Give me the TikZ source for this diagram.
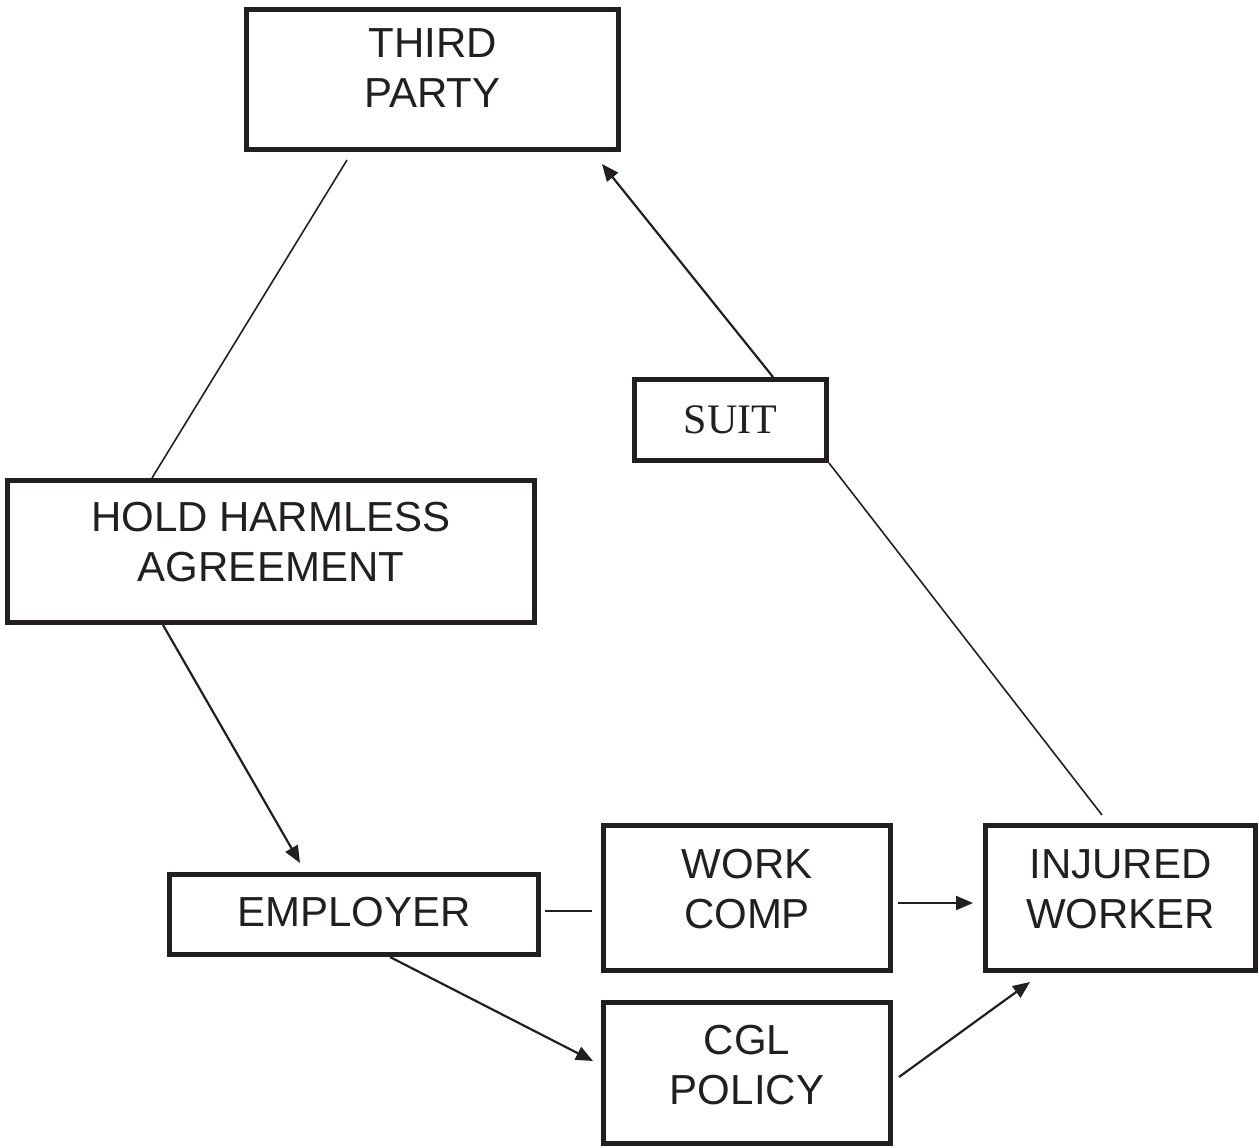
\documentclass[tikz,border=0pt]{standalone}
\usepackage{fontspec}
\setmainfont{Liberation Sans}
\newfontfamily\suitfont{Liberation Serif}
\usetikzlibrary{calc,arrows.meta}
\definecolor{ink}{RGB}{35,31,32}
\begin{document}
\begin{tikzpicture}[x=1bp,y=-1bp,
  box/.style={draw=ink, line width=5bp, rectangle, inner sep=0pt},
  lbl/.style={text=ink, inner sep=0pt, align=center, font=\fontsize{42bp}{50bp}\selectfont},
  link/.style={draw=ink, line width=1.6bp},
  flow/.style={draw=ink, line width=2.2bp, -{Triangle[length=17bp,width=14bp]}}]
\useasboundingbox (0,0) rectangle (1259,1148);

% boxes
\node[box, minimum width=372bp, minimum height=140bp] (tp)   at (432.5,79.5) {};
\node[box, minimum width=192bp, minimum height=81bp]  (suit) at (730.5,420) {};
\node[box, minimum width=527bp, minimum height=142bp] (hh)   at (271,551.5) {};
\node[box, minimum width=369bp, minimum height=80bp]  (emp)  at (354,914.5) {};
\node[box, minimum width=287bp, minimum height=145bp] (wc)   at (747,898) {};
\node[box, minimum width=270bp, minimum height=145bp] (iw)   at (1120.5,898) {};
\node[box, minimum width=287bp, minimum height=141bp] (cgl)  at (747,1073) {};

% box texts
\node[lbl] (tpt)   at ($(tp)+(0,-11.5)$) {THIRD\\PARTY};
\node[lbl, font=\suitfont\fontsize{42bp}{50bp}\selectfont] (suitt) at (suit) {SUIT};
\node[lbl] (hht)   at ($(hh)+(0,-9)$) {HOLD HARMLESS\\AGREEMENT};
\node[lbl] (empt)  at ($(emp)+(0,-2)$) {EMPLOYER};
\node[lbl] (wct)   at ($(wc)+(0,-8.5)$) {WORK\\COMP};
\node[lbl] (iwt)   at ($(iw)+(0,-8.5)$) {INJURED\\WORKER};
\node[lbl] (cglt)  at ($(cgl)+(0,-8)$) {CGL\\POLICY};

% connectors
\draw[link] ($(tp.south)+(-85.5,8)$) -- ($(hh.north)+(-119,0)$);
\draw[flow] ($(hh.south)+(-108,0)$) -- ($(emp.north)+(-54,-9)$);
\draw[link] ($(emp.east)+(4,-3.5)$) -- ($(wc.west)+(-9,13)$);
\draw[flow] ($(wc.east)+(5,5)$) -- ($(iw.west)+(-10,5)$);
\draw[flow] ($(emp.south)+(36,0)$) -- ($(cgl.west)+(-8,-12)$);
\draw[flow] ($(cgl.east)+(6,4)$) -- ($(iw.south)+(-90.5,9)$);
\draw[link] ($(iw.north)+(-18.5,-8)$) -- (suit.south east);
\draw[flow] ($(suit.north)+(42.5,0)$) -- ($(tp.south)+(169.5,12)$);
\end{tikzpicture}
\end{document}
